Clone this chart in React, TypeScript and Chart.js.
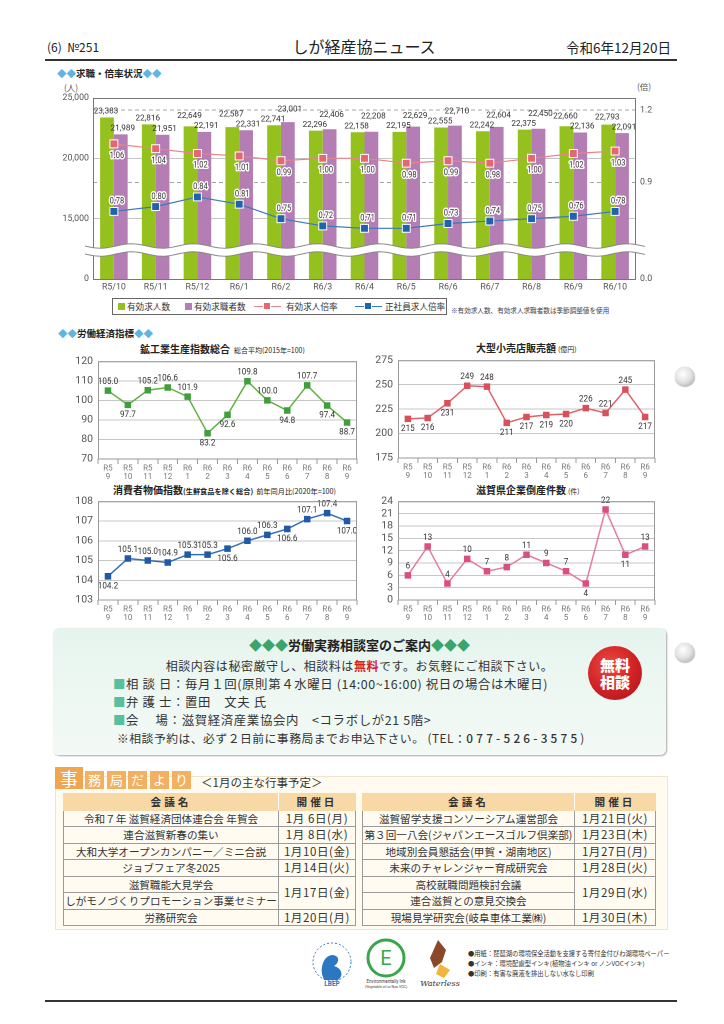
import React, { useEffect, useRef } from 'react';
import { Chart, registerables } from 'chart.js';

Chart.register(...registerables);

const JP = '"Noto Sans CJK JP", "Noto Sans", sans-serif';
const NUM = 'Roboto, "Noto Sans", sans-serif';

// ---------- 求職・倍率状況 ----------
const jobMonths = ['R5/10', 'R5/11', 'R5/12', 'R6/1', 'R6/2', 'R6/3', 'R6/4', 'R6/5', 'R6/6', 'R6/7', 'R6/8', 'R6/9', 'R6/10'];
const jobOffers = [23383, 22816, 22649, 22587, 22741, 22296, 22158, 22195, 22555, 22242, 22375, 22660, 22793];
const jobSeekers = [21989, 21951, 22191, 22331, 23001, 22406, 22208, 22629, 22710, 22604, 22450, 22136, 22091];
const offerRatio = [1.06, 1.04, 1.02, 1.01, 0.99, 1.0, 1.0, 0.98, 0.99, 0.98, 1.0, 1.02, 1.03];
const regularRatio = [0.78, 0.8, 0.84, 0.81, 0.75, 0.72, 0.71, 0.71, 0.73, 0.74, 0.75, 0.76, 0.78];
const leftTicks = [10000, 15000, 20000, 25000]; // lowest tick is printed as 0 (broken axis)
const rightTicks = [0.5, 0.9, 1.2]; // lowest tick is printed as 0.0 (broken axis)
const jobSeries = ['有効求人数', '有効求職者数', '有効求人倍率', '正社員求人倍率'];

// ---------- 労働経済指標 ----------
const indicatorMonths = [
  ['R5', '9'], ['R5', '10'], ['R5', '11'], ['R5', '12'], ['R6', '1'], ['R6', '2'], ['R6', '3'],
  ['R6', '4'], ['R6', '5'], ['R6', '6'], ['R6', '7'], ['R6', '8'], ['R6', '9'],
];
const industrialIndex = [105.0, 97.7, 105.2, 106.6, 101.9, 83.2, 92.6, 109.8, 100.0, 94.8, 107.7, 97.4, 88.7];
const industrialLabelSide = ['up', 'down', 'up', 'up', 'up', 'down', 'down', 'up', 'up', 'down', 'up', 'down', 'down'];
const retailSales = [215, 216, 231, 249, 248, 211, 217, 219, 220, 226, 221, 245, 217];
const retailLabelSide = ['down', 'down', 'down', 'up', 'up', 'down', 'down', 'down', 'down', 'up', 'up', 'up', 'down'];
const consumerPrice = [104.2, 105.1, 105.0, 104.9, 105.3, 105.3, 105.6, 106.0, 106.3, 106.6, 107.1, 107.4, 107.0];
const consumerLabelSide = ['down', 'up', 'up', 'up', 'up', 'up', 'down', 'up', 'up', 'down', 'up', 'up', 'down'];
const bankruptcies = [6, 13, 4, 10, 7, 8, 11, 9, 7, 4, 22, 11, 13];
const bankruptcyLabelSide = ['up', 'up', 'up', 'up', 'up', 'up', 'up', 'up', 'up', 'down', 'up', 'down', 'up'];

// ---------- 事務局だより ----------
const leftEventNames = [
  ['令和７年 滋賀経済団体連合会 年賀会'],
  ['連合滋賀新春の集い'],
  ['大和大学オープンカンパニー／ミニ合説'],
  ['ジョブフェア冬2025'],
  ['滋賀職能大見学会', 'しがモノづくりプロモーション事業セミナー'],
  ['労務研究会'],
];
const leftEventDates = ['1月 6日(月)', '1月 8日(水)', '1月10日(金)', '1月14日(火)', '1月17日(金)', '1月20日(月)'];
const rightEventNames = [
  ['滋賀留学支援コンソーシアム運営部会'],
  ['第３回一八会(ジャパンエースゴルフ倶楽部)'],
  ['地域別会員懇話会(甲賀・湖南地区)'],
  ['未来のチャレンジャー育成研究会'],
  ['高校就職問題検討会議', '連合滋賀との意見交換会'],
  ['現場見学研究会(岐阜車体工業㈱)'],
];
const rightEventDates = ['1月21日(火)', '1月23日(木)', '1月27日(月)', '1月28日(火)', '1月29日(水)', '1月30日(木)'];

function drawText(ctx: CanvasRenderingContext2D, text: string, x: number, y: number, sx: number, halo: boolean) {
  ctx.save();
  ctx.translate(x, y);
  ctx.scale(sx, 1);
  if (halo) {
    ctx.lineJoin = 'round';
    ctx.strokeStyle = '#fff';
    ctx.lineWidth = 3;
    ctx.strokeText(text, 0, 0);
  }
  ctx.fillText(text, 0, 0);
  ctx.restore();
}

function JobChart() {
  const ref = useRef<HTMLCanvasElement>(null);
  useEffect(() => {
    const canvas = ref.current!;
    const labelPlugin = {
      id: 'jobLabels',
      afterDatasetsDraw(chart: any) {
        const ctx: CanvasRenderingContext2D = chart.ctx;
        const g = chart.getDatasetMeta(0).data;
        const p = chart.getDatasetMeta(1).data;
        const r = chart.getDatasetMeta(2).data;
        const b = chart.getDatasetMeta(3).data;
        ctx.save();
        ctx.textAlign = 'center';
        ctx.textBaseline = 'middle';
        ctx.fillStyle = '#333';
        ctx.font = `8.6px ${NUM}`;
        for (let i = 0; i < g.length; i++) {
          let yg = g[i].y - 6;
          let yp = p[i].y - 6;
          if (Math.abs(yg - yp) < 10) {
            if (yg < yp) yg = yp - 10;
            else yp = yg - 10;
          }
          drawText(ctx, jobOffers[i].toLocaleString('en-US'), g[i].x - 1, yg, 0.95, false);
          drawText(ctx, jobSeekers[i].toLocaleString('en-US'), p[i].x + 2, yp, 0.95, false);
        }
        ctx.font = `8.8px ${NUM}`;
        for (let i = 0; i < r.length; i++) {
          drawText(ctx, offerRatio[i].toFixed(2), r[i].x + 3, r[i].y + 12, 0.85, true);
          drawText(ctx, regularRatio[i].toFixed(2), b[i].x + 3, b[i].y - 10, 0.85, true);
        }
        ctx.restore();
      },
      afterDraw(chart: any) {
        const ctx: CanvasRenderingContext2D = chart.ctx;
        const a = chart.chartArea;
        ctx.save();
        ctx.strokeStyle = '#777';
        ctx.lineWidth = 1;
        ctx.strokeRect(a.left + 0.5, a.top + 0.5, a.right - a.left - 1, a.bottom - a.top);
        // axis break band
        const yb = a.bottom - 29;
        const x0 = a.left - 8;
        const x1 = a.right + 10;
        const wave = (x: number) => Math.sin((x - x0) / 62 * Math.PI * 2) * 2.2;
        ctx.beginPath();
        for (let x = x0; x <= x1; x += 2) {
          const y = yb - 4 + wave(x);
          if (x === x0) ctx.moveTo(x, y); else ctx.lineTo(x, y);
        }
        for (let x = x1; x >= x0; x -= 2) ctx.lineTo(x, yb + 4 + wave(x));
        ctx.closePath();
        ctx.fillStyle = '#fff';
        ctx.fill();
        ctx.strokeStyle = '#888';
        ctx.beginPath();
        for (let x = x0; x <= x1; x += 2) {
          const y = yb - 4 + wave(x);
          if (x === x0) ctx.moveTo(x, y); else ctx.lineTo(x, y);
        }
        ctx.stroke();
        ctx.beginPath();
        for (let x = x0; x <= x1; x += 2) {
          const y = yb + 4 + wave(x);
          if (x === x0) ctx.moveTo(x, y); else ctx.lineTo(x, y);
        }
        ctx.stroke();
        ctx.restore();
      },
    };
    const tickFont = { size: 8.8, family: NUM };
    const chart = new Chart(canvas, {
      type: 'bar',
      data: {
        labels: jobMonths,
        datasets: [
          { type: 'bar', label: jobSeries[0], data: jobOffers, backgroundColor: '#95c11f', yAxisID: 'y', categoryPercentage: 0.66, barPercentage: 1, order: 2 },
          { type: 'bar', label: jobSeries[1], data: jobSeekers, backgroundColor: '#b47db4', yAxisID: 'y', categoryPercentage: 0.66, barPercentage: 1, order: 2 },
          {
            type: 'line', label: jobSeries[2], data: offerRatio, yAxisID: 'y1', borderColor: '#e8838a', borderWidth: 1.2,
            pointStyle: 'rect', pointRadius: 5.6, pointBackgroundColor: '#e56771', pointBorderColor: '#fff', pointBorderWidth: 1, order: 1,
          },
          {
            type: 'line', label: jobSeries[3], data: regularRatio, yAxisID: 'y1', borderColor: '#3b78bd', borderWidth: 1.2,
            pointStyle: 'rect', pointRadius: 5.6, pointBackgroundColor: '#1f63ae', pointBorderColor: '#fff', pointBorderWidth: 1, order: 1,
          },
        ],
      } as any,
      options: {
        responsive: false,
        animation: false,
        devicePixelRatio: 2,
        layout: { padding: { top: 18, left: 0, right: 0, bottom: 0 } },
        plugins: { legend: { display: false }, tooltip: { enabled: false } },
        scales: {
          x: {
            grid: { display: false, drawTicks: false },
            border: { display: false },
            ticks: { font: tickFont, color: '#555', padding: 3, autoSkip: false, maxRotation: 0 },
            afterFit: (s: any) => { s.height = 19; },
          },
          y: {
            position: 'left', min: 10000, max: 25000,
            afterBuildTicks: (a: any) => { a.ticks = leftTicks.map((v) => ({ value: v })); },
            ticks: {
              font: tickFont, color: '#555', padding: 4,
              callback: (v: any) => (v === leftTicks[0] ? '0' : Number(v).toLocaleString('en-US')),
            },
            grid: {
              drawTicks: false,
              color: (c: any) => (c.tick && c.tick.value > leftTicks[0] && c.tick.value < 25000 ? '#c4c4c4' : 'transparent'),
            },
            border: { display: false },
            afterFit: (s: any) => { s.width = 53; },
          },
          y1: {
            position: 'right', min: 0.5, max: 1.25,
            afterBuildTicks: (a: any) => { a.ticks = rightTicks.map((v) => ({ value: v })); },
            ticks: {
              font: tickFont, color: '#555', padding: 4,
              callback: (v: any) => (v === rightTicks[0] ? '0.0' : Number(v).toFixed(1)),
            },
            grid: {
              drawTicks: false,
              color: (c: any) => (c.tick && c.tick.value > rightTicks[0] ? '#a6a6a6' : 'transparent'),
            },
            border: { display: false, dash: [4, 3] },
            afterFit: (s: any) => { s.width = 49; },
          },
        },
      } as any,
      plugins: [labelPlugin],
    });
    return () => chart.destroy();
  }, []);
  return (
    <canvas ref={ref} width={645} height={218}
      style={{ position: 'absolute', left: 40, top: 80, width: 645, height: 218 }} />
  );
}

interface Box { left: number; top: number; width: number; height: number; yw: number; xh: number; pt: number; pr: number }
interface IndicatorProps {
  box: Box; values: number[]; sides: string[]; min: number; max: number; step: number;
  lineColor: string; pointColor: string; decimals: number;
}

function IndicatorChart(p: IndicatorProps) {
  const ref = useRef<HTMLCanvasElement>(null);
  useEffect(() => {
    const canvas = ref.current!;
    const labelPlugin = {
      id: 'pointLabels',
      afterDatasetsDraw(chart: any) {
        const ctx: CanvasRenderingContext2D = chart.ctx;
        const pts = chart.getDatasetMeta(0).data;
        ctx.save();
        ctx.font = `9px ${NUM}`;
        ctx.fillStyle = '#333';
        ctx.textAlign = 'center';
        ctx.textBaseline = 'middle';
        pts.forEach((pt: any, i: number) => {
          const y = p.sides[i] === 'up' ? pt.y - 9 : pt.y + 10;
          drawText(ctx, p.values[i].toFixed(p.decimals), pt.x, y, 0.9, false);
        });
        ctx.restore();
      },
      afterDraw(chart: any) {
        const ctx: CanvasRenderingContext2D = chart.ctx;
        const a = chart.chartArea;
        ctx.save();
        ctx.strokeStyle = '#999';
        ctx.lineWidth = 1;
        ctx.strokeRect(a.left + 0.5, a.top + 0.5, a.right - a.left - 1, a.bottom - a.top - 0.5);
        ctx.restore();
      },
    };
    const chart = new Chart(canvas, {
      type: 'line',
      data: {
        labels: indicatorMonths,
        datasets: [{
          data: p.values, borderColor: p.lineColor, borderWidth: 1.5, tension: 0,
          pointStyle: 'rect', pointRadius: 4.6, pointBackgroundColor: p.pointColor,
          pointBorderColor: p.pointColor, pointBorderWidth: 0,
        }],
      } as any,
      options: {
        responsive: false,
        animation: false,
        devicePixelRatio: 2,
        layout: { padding: { top: p.box.pt, right: p.box.pr, left: 0, bottom: 0 } },
        plugins: { legend: { display: false }, tooltip: { enabled: false } },
        scales: {
          x: {
            offset: true,
            grid: { offset: true, drawOnChartArea: false, drawTicks: true, tickLength: 5, color: '#999' },
            border: { display: false },
            ticks: { font: { size: 8, family: NUM, lineHeight: 1.1 }, color: '#777', padding: 0, autoSkip: false, maxRotation: 0 },
            afterFit: (s: any) => { s.height = p.box.xh; },
          },
          y: {
            min: p.min, max: p.max,
            ticks: { stepSize: p.step, autoSkip: false, font: { size: 10.5, family: NUM }, color: '#555', padding: 5 },
            grid: { drawTicks: false, color: '#c6c6c6' },
            border: { display: false },
            afterFit: (s: any) => { s.width = p.box.yw; },
          },
        },
      } as any,
      plugins: [labelPlugin],
    });
    return () => chart.destroy();
  }, []);
  const b = p.box;
  return (
    <canvas ref={ref} width={b.width} height={b.height}
      style={{ position: 'absolute', left: b.left, top: b.top, width: b.width, height: b.height }} />
  );
}

function Diamonds({ n, color }: { n: number; color: string }) {
  return <span style={{ color }}>{'◆'.repeat(n)}</span>;
}

function EventTable({ left, width, nameW, names, dates }: { left: number; width: number; nameW: number; names: string[][]; dates: string[] }) {
  const cell: React.CSSProperties = {
    border: '1px solid #9a9a9a', height: 15.5, padding: 0, textAlign: 'center', whiteSpace: 'nowrap',
    lineHeight: '15px', color: '#333', overflow: 'visible',
  };
  const head: React.CSSProperties = {
    ...cell, background: '#f8d9a6', borderColor: '#f8d9a6', borderRight: '1px solid #fff', fontWeight: 700, letterSpacing: 3,
  };
  const rows: React.ReactNode[] = [];
  names.forEach((group, gi) => {
    group.forEach((n, ni) => {
      rows.push(
        <tr key={`${gi}-${ni}`}>
          <td style={cell}>{n}</td>
          {ni === 0 && (
            <td rowSpan={group.length} style={{ ...cell, fontSize: 11.5, letterSpacing: 0.6 }}>{dates[gi]}</td>
          )}
        </tr>,
      );
    });
  });
  return (
    <table style={{ position: 'absolute', left, top: 793, width, borderCollapse: 'collapse', tableLayout: 'fixed', fontSize: 10.6, fontFamily: JP }}>
      <colgroup>
        <col style={{ width: nameW }} />
        <col style={{ width: width - nameW }} />
      </colgroup>
      <tbody>
        <tr>
          <td style={head}>会議名</td>
          <td style={{ ...head, borderRight: '1px solid #f8d9a6' }}>開催日</td>
        </tr>
        {rows}
      </tbody>
    </table>
  );
}

function PunchHole({ top }: { top: number }) {
  return (
    <div style={{
      position: 'absolute', left: 675, top: top - 10, width: 20, height: 20, borderRadius: 10,
      background: 'radial-gradient(circle at 40% 35%, #ffffff 0%, #e2e2e2 45%, #9d9d9d 100%)',
      boxShadow: '0 0 1px #888',
    }} />
  );
}

export default function App() {
  const abs = (l: number, t: number, extra: React.CSSProperties = {}): React.CSSProperties => ({
    position: 'absolute', left: l, top: t, whiteSpace: 'nowrap', ...extra,
  });
  const legendSwatch = (l: number, color: string): React.CSSProperties => ({
    position: 'absolute', left: l, top: 4, width: 7, height: 7, background: color,
  });
  const legendLine = (l: number, color: string, marker: string) => (
    <span style={{ position: 'absolute', left: l, top: 3, width: 27, height: 8 }}>
      <span style={{ position: 'absolute', left: 0, right: 0, top: 3.5, height: 1.2, background: color }} />
      <span style={{ position: 'absolute', left: 9, top: 0, width: 8, height: 8, background: marker, boxSizing: 'border-box', border: '1px solid #fff' }} />
    </span>
  );
  const legendText = (l: number, t: string) => (
    <span style={{ position: 'absolute', left: l, top: 0, fontSize: 8.6, lineHeight: '15px', color: '#333', whiteSpace: 'nowrap' }}>{t}</span>
  );
  const bullet = <span style={{ color: '#55bfa0' }}>■</span>;
  const officeChars = ['務', '局', 'だ', 'よ', 'り'];
  const officeLeft = [85, 107, 128, 150, 172];

  return (
    <div style={{ position: 'absolute', left: 0, top: 0, width: 724, height: 1024, background: '#fff', fontFamily: JP, color: '#222', overflow: 'hidden' }}>
      {/* header */}
      <div style={abs(47, 38, { fontSize: 12 })}>(6)&nbsp;&nbsp;№251</div>
      <div style={{ position: 'absolute', left: 0, width: 728, top: 34, textAlign: 'center', fontSize: 16 }}>しが経産協ニュース</div>
      <div style={{ position: 'absolute', right: 53, top: 37, fontSize: 13.5 }}>令和6年12月20日</div>
      <div style={{ position: 'absolute', left: 45, top: 59, width: 632, height: 2, background: '#333' }} />

      {/* section 1 */}
      <div style={abs(57, 66, { fontSize: 9.5, fontWeight: 700 })}>
        <Diamonds n={2} color="#5fb4e0" />求職・倍率状況<Diamonds n={2} color="#5fb4e0" />
      </div>
      <div style={abs(64, 81, { fontSize: 8.5, color: '#555' })}>(人)</div>
      <div style={abs(637, 80, { fontSize: 8.5, color: '#555' })}>(倍)</div>
      <JobChart />
      <div style={{ position: 'absolute', left: 112, top: 298, width: 333, height: 15, border: '1px solid #666' }}>
        <span style={legendSwatch(5, '#95c11f')} />
        {legendText(14, jobSeries[0])}
        <span style={legendSwatch(72, '#b47db4')} />
        {legendText(81, jobSeries[1])}
        {legendLine(141, '#e8838a', '#e56771')}
        {legendText(173, jobSeries[2])}
        {legendLine(242, '#3b78bd', '#1f63ae')}
        {legendText(272, jobSeries[3])}
      </div>
      <div style={abs(451, 305, { fontSize: 6.6, color: '#444' })}>※有効求人数、有効求人求職者数は季節調整値を使用</div>

      {/* section 2 */}
      <div style={abs(58, 326, { fontSize: 9.5, fontWeight: 700 })}>
        <Diamonds n={2} color="#5fb4e0" />労働経済指標<Diamonds n={2} color="#5fb4e0" />
      </div>

      <div style={abs(140, 341, { fontSize: 10, fontWeight: 700 })}>
        鉱工業生産指数総合<span style={{ fontSize: 7, fontWeight: 400, marginLeft: 4 }}>総合平均(2015年=100)</span>
      </div>
      <div style={abs(476, 340, { fontSize: 10, fontWeight: 700 })}>
        大型小売店販売額<span style={{ fontSize: 7, fontWeight: 400, marginLeft: 2 }}>(億円)</span>
      </div>
      <div style={abs(113, 482, { fontSize: 10, fontWeight: 700 })}>
        消費者物価指数<span style={{ fontSize: 7.2 }}>(生鮮食品を除く総合)</span>
        <span style={{ fontSize: 7.2, fontWeight: 400, marginLeft: 3 }}>前年同月比(2020年=100)</span>
      </div>
      <div style={abs(476, 482, { fontSize: 10, fontWeight: 700 })}>
        滋賀県企業倒産件数<span style={{ fontSize: 7, fontWeight: 400, marginLeft: 2 }}>(件)</span>
      </div>

      <IndicatorChart box={{ left: 58, top: 350, width: 311, height: 132, yw: 40, xh: 23, pt: 9, pr: 12 }}
        values={industrialIndex} sides={industrialLabelSide} min={70} max={120} step={10}
        lineColor="#62b044" pointColor="#3f9f3a" decimals={1} />
      <IndicatorChart box={{ left: 358, top: 349, width: 309, height: 132, yw: 40, xh: 23, pt: 9, pr: 12 }}
        values={retailSales} sides={retailLabelSide} min={175} max={275} step={25}
        lineColor="#e06068" pointColor="#d9505b" decimals={0} />
      <IndicatorChart box={{ left: 58, top: 490, width: 311, height: 133, yw: 40, xh: 23, pt: 9, pr: 12 }}
        values={consumerPrice} sides={consumerLabelSide} min={103} max={108} step={1}
        lineColor="#3570b6" pointColor="#1f5aa6" decimals={1} />
      <IndicatorChart box={{ left: 358, top: 490, width: 309, height: 133, yw: 40, xh: 23, pt: 9, pr: 12 }}
        values={bankruptcies} sides={bankruptcyLabelSide} min={0} max={24} step={3}
        lineColor="#e57c9c" pointColor="#d9507f" decimals={0} />

      <PunchHole top={377} />
      <PunchHole top={653} />

      {/* consultation box */}
      <div style={{
        position: 'absolute', left: 53, top: 628, width: 613, height: 127, borderRadius: 6,
        background: 'linear-gradient(180deg, #e6f4ee 0%, #eff8f3 60%, #f3f9f5 100%)',
        boxShadow: '1px 1px 2px rgba(0,0,0,0.35)',
      }} />
      <div style={{ position: 'absolute', left: 53, width: 613, top: 635, textAlign: 'center', fontSize: 13, fontWeight: 700, color: '#222' }}>
        <Diamonds n={3} color="#3aa56b" />労働実務相談室のご案内<Diamonds n={3} color="#3aa56b" />
      </div>
      <div style={{ position: 'absolute', left: 53, width: 613, top: 657, textAlign: 'center', fontSize: 12, letterSpacing: 0.55, color: '#333' }}>
        相談内容は秘密厳守し、相談料は<span style={{ color: '#d3232a', fontWeight: 700 }}>無料</span>です。お気軽にご相談下さい。
      </div>
      <div style={abs(113, 675, { fontSize: 12.4, letterSpacing: 0.65, color: '#333' })}>
        {bullet}相&nbsp;談&nbsp;日：毎月１回(原則第４水曜日 (14:00~16:00) 祝日の場合は木曜日)
      </div>
      <div style={abs(113, 693, { fontSize: 12.4, letterSpacing: 0.65, color: '#333' })}>
        {bullet}弁&nbsp;護&nbsp;士：置田　文夫 氏
      </div>
      <div style={abs(113, 711, { fontSize: 12.4, letterSpacing: 0.65, color: '#333' })}>
        {bullet}会　&nbsp;場：滋賀経済産業協会内　&lt;コラボしが21 5階&gt;
      </div>
      <div style={abs(117, 729, { fontSize: 11.8, letterSpacing: 0.5, color: '#333' })}>
        ※相談予約は、必ず２日前に事務局までお申込下さい。 (TEL：<span style={{ letterSpacing: 3.2, fontWeight: 500 }}>077-526-3575</span>)
      </div>
      <div style={{
        position: 'absolute', left: 588, top: 646, width: 54, height: 54, borderRadius: 27,
        background: 'radial-gradient(circle at 40% 35%, #ec4a3f 0%, #cf2125 55%, #a5141a 100%)',
        color: '#fff', fontWeight: 900, fontSize: 15, lineHeight: '17px', textAlign: 'center',
        display: 'flex', flexDirection: 'column', justifyContent: 'center', alignItems: 'center',
      }}>
        <div>無料</div>
        <div>相談</div>
      </div>

      {/* office news */}
      <div style={{ position: 'absolute', left: 55, top: 776, width: 613, height: 154, background: '#fffbf1', border: '1px solid #efe5cf', boxSizing: 'border-box' }} />
      <div style={{ position: 'absolute', left: 55, top: 767, width: 28, height: 22, background: '#f0a54e', color: '#fff', fontSize: 18, lineHeight: '22px', textAlign: 'center' }}>事</div>
      {officeChars.map((c, i) => (
        <div key={c} style={{ position: 'absolute', left: officeLeft[i], top: 771, width: 19, height: 18, background: '#f3b061', color: '#fff', fontSize: 13, lineHeight: '18px', textAlign: 'center' }}>{c}</div>
      ))}
      <div style={abs(201, 774, { fontSize: 11.5, color: '#333' })}>＜1月の主な行事予定＞</div>
      <EventTable left={63} width={292} nameW={215} names={leftEventNames} dates={leftEventDates} />
      <EventTable left={362} width={293} nameW={212} names={rightEventNames} dates={rightEventDates} />

      {/* footer */}
      <svg style={{ position: 'absolute', left: 300, top: 928, width: 180, height: 66 }} viewBox="0 0 180 66">
        <circle cx="32" cy="34" r="19" fill="none" stroke="#2b77c2" strokeWidth="1" strokeDasharray="2 2" />
        <path d="M22 46 C20 34 28 24 36 28 C40 30 38 36 34 38 C42 40 44 48 38 52 L24 52 Z" fill="#2b77c2" />
        <text x="32" y="58" fontSize="6.5" fill="#2b77c2" textAnchor="middle" fontWeight="700" fontFamily="Roboto">LBEP</text>
        <circle cx="86" cy="30" r="18" fill="none" stroke="#3aa64a" strokeWidth="3" />
        <text x="86" y="37" fontSize="20" fill="#3aa64a" textAnchor="middle" fontFamily="Roboto">E</text>
        <text x="86" y="55" fontSize="4.5" fill="#444" textAnchor="middle" fontFamily="Roboto">Environmentally Ink</text>
        <text x="86" y="60" fontSize="3.6" fill="#444" textAnchor="middle" fontFamily="Roboto">(Vegetable oil or Non VOC)</text>
        <path d="M138 12 L146 22 L142 34 L134 40 L130 30 Z" fill="#8a4a2a" />
        <path d="M140 36 L150 42 L144 50 L136 46 Z" fill="#f2b43a" />
        <text x="140" y="58" fontSize="8" fill="#333" textAnchor="middle" fontStyle="italic" fontFamily="DejaVu Serif">Waterless</text>
      </svg>
      <div style={abs(468, 949, { fontSize: 6.3, color: '#333', lineHeight: '10px' })}>
        ●用紙：琵琶湖の環境保全活動を支援する寄付金付びわ湖環境ペーパー<br />
        ●インキ：環境配慮型インキ(植物油インキ or ノンVOCインキ)<br />
        ●印刷：有害な廃液を排出しない水なし印刷
      </div>
      <div style={{ position: 'absolute', left: 45, top: 1000, width: 632, height: 2, background: '#333' }} />
    </div>
  );
}
